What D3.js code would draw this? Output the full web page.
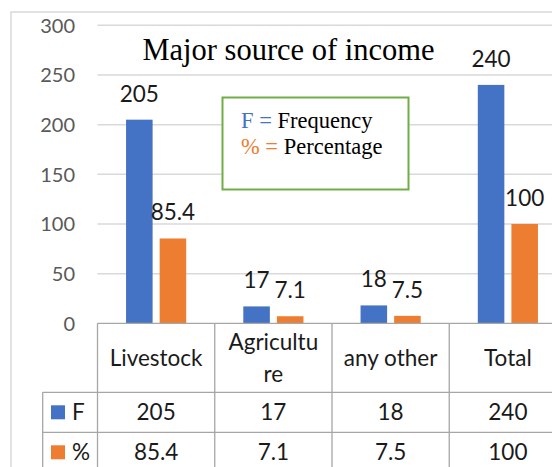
<!DOCTYPE html>
<html>
<head>
<meta charset="utf-8">
<script src="https://cdn.jsdelivr.net/npm/d3@7"></script>
<style>
  html, body { margin: 0; padding: 0; background: #fff; }
  svg { display: block; }
</style>
</head>
<body>
<svg id="chart" width="552" height="467"></svg>
<script>
(function() {
  // Data
  const categories = ["Livestock", "Agriculture", "any other", "Total"];
  const headerLines = [["Livestock"], ["Agricultu", "re"], ["any other"], ["Total"]];
  const seriesKeys = ["F", "%"];
  const frequency = [205, 17, 18, 240];
  const percentage = [85.4, 7.1, 7.5, 100];
  const yTicks = [0, 50, 100, 150, 200, 250, 300];
  const titleText = "Major source of income";
  const noteLines = [
    { key: "F =", label: "Frequency" },
    { key: "% =", label: "Percentage" }
  ];

  const colors = { F: "#4472C4", "%": "#ED7D31" };
  const sans = "Lato, 'Open Sans', sans-serif";
  const serif = "'Liberation Serif', 'DejaVu Serif', serif";
  const tableFont = 22.5;

  const rows = categories.map((c, i) => ({
    category: c,
    values: [
      { key: "F", value: frequency[i] },
      { key: "%", value: percentage[i] }
    ]
  }));

  const svg = d3.select("#chart");

  // Scales
  const x = d3.scaleBand().domain(categories).range([97.5, 566.5]);
  const x1 = d3
    .scaleBand()
    .domain(seriesKeys)
    .range([0, x.bandwidth()])
    .paddingInner(0.21)
    .paddingOuter(0.85);
  const y = d3.scaleLinear().domain([0, 300]).range([323.3, 25.3]);

  // Chart border
  svg
    .append("rect")
    .attr("x", 11)
    .attr("y", 12)
    .attr("width", 600)
    .attr("height", 500)
    .attr("fill", "none")
    .attr("stroke", "#d9d9d9")
    .attr("stroke-width", 1.5);

  // Grid + y labels
  svg
    .append("g")
    .attr("class", "grid")
    .selectAll("line")
    .data(yTicks.filter(d => d > 0))
    .join("line")
    .attr("x1", x.range()[0])
    .attr("x2", x.range()[1])
    .attr("y1", d => y(d))
    .attr("y2", d => y(d))
    .attr("stroke", "#d9d9d9")
    .attr("stroke-width", 1.5);

  svg
    .append("g")
    .attr("class", "y-labels")
    .selectAll("text")
    .data(yTicks)
    .join("text")
    .attr("x", 75)
    .attr("y", d => y(d))
    .attr("dy", "0.36em")
    .attr("text-anchor", "end")
    .attr("font-family", sans)
    .attr("font-size", 20)
    .attr("fill", "#595959")
    .text(d => d);

  // Title
  svg
    .append("text")
    .attr("x", 288.5)
    .attr("y", 60)
    .attr("text-anchor", "middle")
    .attr("font-family", serif)
    .attr("font-size", 30.5)
    .attr("fill", "#000")
    .text(titleText);

  // Bars
  const groups = svg
    .append("g")
    .attr("class", "bars")
    .selectAll("g")
    .data(rows)
    .join("g")
    .attr("transform", d => `translate(${x(d.category)},0)`);

  groups
    .selectAll("rect")
    .data(d => d.values)
    .join("rect")
    .attr("x", d => x1(d.key))
    .attr("width", x1.bandwidth())
    .attr("y", d => y(d.value))
    .attr("height", d => y(0) - y(d.value))
    .attr("fill", d => colors[d.key]);

  groups
    .selectAll("text")
    .data(d => d.values)
    .join("text")
    .attr("x", d => x1(d.key) + x1.bandwidth() / 2)
    .attr("y", d => y(d.value) - 18)
    .attr("text-anchor", "middle")
    .attr("font-family", sans)
    .attr("font-size", 22.5)
    .attr("fill", "#1a1a1a")
    .text(d => d.value);

  // Note box
  const note = svg.append("g").attr("class", "note");
  note
    .append("rect")
    .attr("x", 222.5)
    .attr("y", 97.5)
    .attr("width", 186)
    .attr("height", 92)
    .attr("fill", "#fff")
    .attr("stroke", "#70AD47")
    .attr("stroke-width", 2);
  note
    .selectAll("text")
    .data(noteLines)
    .join("text")
    .attr("x", 241)
    .attr("y", (d, i) => 128 + i * 25.5)
    .attr("font-family", serif)
    .attr("font-size", 22.5)
    .call(t =>
      t
        .append("tspan")
        .attr("fill", (d, i) => colors[seriesKeys[i]])
        .text(d => d.key + " ")
    )
    .call(t =>
      t
        .append("tspan")
        .attr("fill", "#000")
        .text(d => d.label)
    );

  // Data table
  const tableTop = y(0);
  const headerH = 69;
  const rowH = 40;
  const labelLeft = 42.7;
  const table = svg.append("g").attr("class", "table");
  const lineColor = "#a6a6a6";
  const [x0, xEnd] = x.range();

  // horizontal lines
  table
    .append("line")
    .attr("x1", x0)
    .attr("x2", xEnd)
    .attr("y1", tableTop)
    .attr("y2", tableTop);
  [1, 2, 3].forEach(r => {
    const yy = tableTop + headerH + (r - 1) * rowH;
    table
      .append("line")
      .attr("x1", labelLeft)
      .attr("x2", xEnd)
      .attr("y1", yy)
      .attr("y2", yy);
  });
  // vertical lines
  categories.concat([null]).forEach(c => {
    const xx = c ? x(c) : xEnd;
    table
      .append("line")
      .attr("x1", xx)
      .attr("x2", xx)
      .attr("y1", tableTop)
      .attr("y2", tableTop + headerH + 3 * rowH);
  });
  table
    .append("line")
    .attr("x1", labelLeft)
    .attr("x2", labelLeft)
    .attr("y1", tableTop + headerH)
    .attr("y2", tableTop + headerH + 3 * rowH);
  table
    .selectAll("line")
    .attr("stroke", lineColor)
    .attr("stroke-width", 1.3);

  // header text
  table
    .selectAll(".head")
    .data(categories)
    .join("text")
    .attr("class", "head")
    .attr("text-anchor", "middle")
    .attr("font-family", sans)
    .attr("font-size", tableFont)
    .attr("fill", "#1a1a1a")
    .each(function(c, i) {
      const lines = headerLines[i];
      const lh = 31.5;
      const cy = tableTop + headerH / 2;
      d3.select(this)
        .selectAll("tspan")
        .data(lines)
        .join("tspan")
        .attr("x", x(c) + x.bandwidth() / 2)
        .attr("y", (d, j) => cy + (j - (lines.length - 1) / 2) * lh)
        .attr("dy", "0.36em")
        .text(d => d);
    });

  // row labels and legend keys
  const seriesRows = [
    { key: "F", values: frequency },
    { key: "%", values: percentage }
  ];
  seriesRows.forEach((s, r) => {
    const cy = tableTop + headerH + r * rowH + rowH / 2;
    table
      .append("rect")
      .attr("x", 51)
      .attr("y", cy - 7)
      .attr("width", 14)
      .attr("height", 14)
      .attr("fill", colors[s.key]);
    table
      .append("text")
      .attr("x", 72)
      .attr("y", cy)
      .attr("dy", "0.36em")
      .attr("font-family", sans)
      .attr("font-size", tableFont)
      .attr("fill", "#1a1a1a")
      .text(s.key);
    table
      .selectAll(`.cell-${r}`)
      .data(s.values)
      .join("text")
      .attr("class", `cell-${r}`)
      .attr("x", (d, i) => x(categories[i]) + x.bandwidth() / 2)
      .attr("y", cy)
      .attr("dy", "0.36em")
      .attr("text-anchor", "middle")
      .attr("font-family", sans)
      .attr("font-size", tableFont)
      .attr("fill", "#1a1a1a")
      .text(d => d);
  });
})();
</script>
</body>
</html>
